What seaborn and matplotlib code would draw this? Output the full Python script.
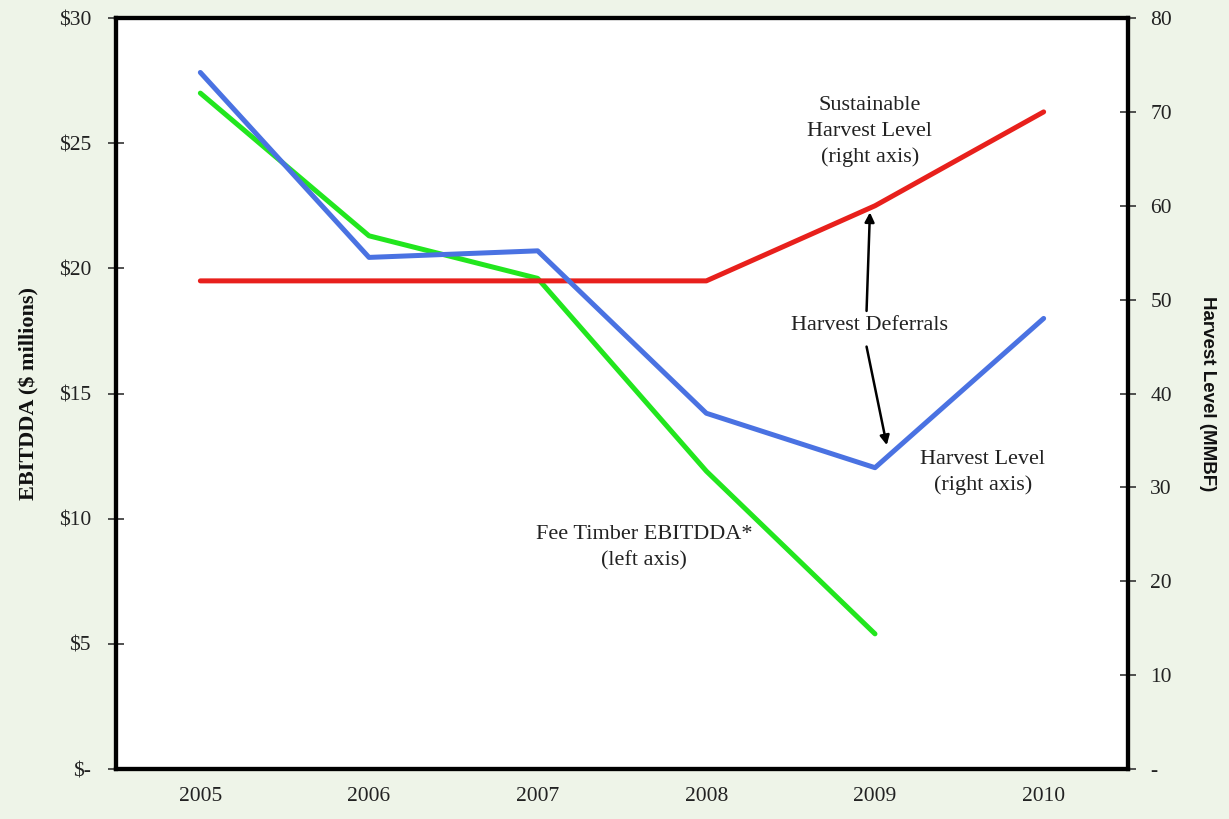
import numpy as np
import pandas as pd
import matplotlib
matplotlib.use("Agg")
import matplotlib.pyplot as plt
import seaborn as sns

# Data
years = [2005, 2006, 2007, 2008, 2009, 2010]
ebitdda = [27.0, 21.3, 19.6, 11.9, 5.4, np.nan]          # $ millions, left axis
harvest_level = [74.2, 54.5, 55.2, 37.9, 32.1, 48.0]      # MMBF, right axis
sustainable_level = [52, 52, 52, 52, 60, 70]              # MMBF, right axis

left_ticks = [0, 5, 10, 15, 20, 25, 30]
left_labels = ["$-", "$5", "$10", "$15", "$20", "$25", "$30"]
right_ticks = [0, 10, 20, 30, 40, 50, 60, 70, 80]
right_labels = ["-", "10", "20", "30", "40", "50", "60", "70", "80"]

df = pd.DataFrame({
    "year": years,
    "ebitdda": ebitdda,
    "harvest": harvest_level,
    "sustainable": sustainable_level,
})

sns.set_theme(style="white")
plt.rcParams["font.family"] = ["Liberation Serif", "DejaVu Serif"]

BG = "#eef4e8"
fig = plt.figure(figsize=(12.29, 8.19), dpi=100, facecolor=BG)
ax = fig.add_axes([0.0944, 0.061, 0.8234, 0.917])
ax.set_facecolor("white")
ax2 = ax.twinx()

lw = 3.6
sns.lineplot(data=df, x="year", y="ebitdda", ax=ax, color="#22e61e", linewidth=lw)
sns.lineplot(data=df, x="year", y="sustainable", ax=ax2, color="#e8201c", linewidth=lw)
sns.lineplot(data=df, x="year", y="harvest", ax=ax2, color="#4a72e2", linewidth=lw)

ax.set_xlim(2004.5, 2010.5)
ax.set_ylim(0, 30)
ax2.set_ylim(0, 80)

ax.set_xticks(years)
ax.set_xticklabels([str(y) for y in years], fontsize=15.5)
ax.set_yticks(left_ticks)
ax.set_yticklabels(left_labels, fontsize=15.5)
ax2.set_yticks(right_ticks)
ax2.set_yticklabels(right_labels, fontsize=15.5)

ax.tick_params(axis="x", length=0, pad=13, colors="#222222")
ax.tick_params(axis="y", direction="inout", length=12, width=1.2, pad=12,
               color="#333333", labelcolor="#222222", left=True)
ax2.tick_params(axis="y", direction="inout", length=12, width=1.2, pad=10,
                color="#333333", labelcolor="#222222", right=True)

ax.set_xlabel("")
ax.set_ylabel("EBITDDA ($ millions)", fontsize=16, fontweight="bold", labelpad=14,
              color="#111111")
ax2.set_ylabel("Harvest Level (MMBF)", fontsize=13.5, fontweight="bold",
               family=["Liberation Sans", "DejaVu Sans"], color="#111111",
               rotation=270, labelpad=32)

for a in (ax, ax2):
    for s in a.spines.values():
        s.set_color("black")
        s.set_linewidth(3.0)

# Annotations (right-axis coordinates)
txt = dict(fontsize=16, color="#222222", ha="center", va="center")
ax2.text(2008.97, 67.9, "Sustainable\nHarvest Level\n(right axis)", linespacing=1.45, **txt)
ax2.text(2008.97, 47.2, "Harvest Deferrals", **txt)
ax2.text(2009.64, 31.6, "Harvest Level\n(right axis)", linespacing=1.45, **txt)
ax.text(2007.63, 8.85, "Fee Timber EBITDDA*\n(left axis)", linespacing=1.5, **txt)

arrow = dict(arrowstyle="-|>", color="black", lw=1.8, mutation_scale=14, shrinkA=0, shrinkB=0)
ax2.annotate("", xy=(2008.97, 59.3), xytext=(2008.95, 48.8), arrowprops=arrow)
ax2.annotate("", xy=(2009.07, 34.5), xytext=(2008.95, 45.0), arrowprops=arrow)

fig.savefig("out.png", dpi=100, facecolor=BG)
